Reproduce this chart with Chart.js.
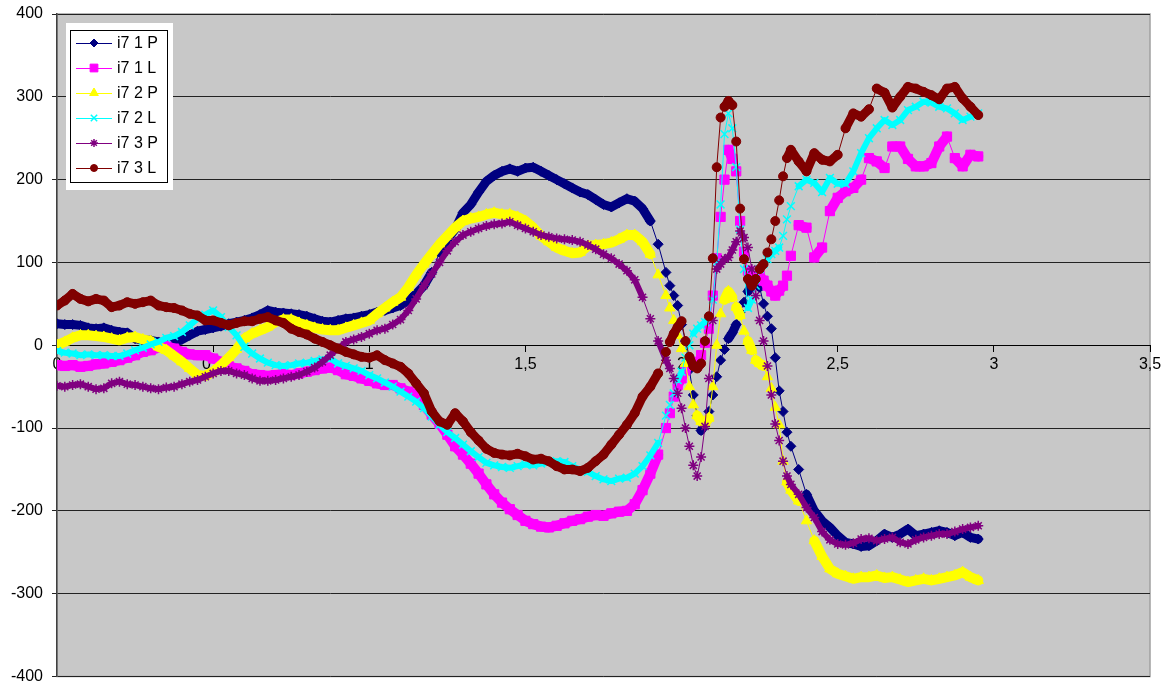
<!DOCTYPE html>
<html>
<head>
<meta charset="utf-8">
<title>i7</title>
<script src="https://cdn.jsdelivr.net/npm/chart.js@4.4.1/dist/chart.umd.min.js"></script>
<style>
    html, body { margin: 0; padding: 0; background: #fff; }
    #wrap { width: 1165px; height: 684px; }
</style>
</head>
<body>
<div id="wrap"><canvas id="i7-chart"></canvas></div>
<script>
// x positions shared by all series (finer around the peaks)
const xs = [
    0, 0.025, 0.05, 0.075, 0.1, 0.125, 0.15, 0.175, 0.2, 0.225,
    0.25, 0.275, 0.3, 0.325, 0.35, 0.375, 0.4, 0.425, 0.45, 0.475,
    0.5, 0.525, 0.55, 0.575, 0.6, 0.625, 0.65, 0.675, 0.7, 0.725,
    0.75, 0.775, 0.8, 0.825, 0.85, 0.875, 0.9, 0.925, 0.95, 0.975,
    1, 1.025, 1.05, 1.075, 1.1, 1.125, 1.15, 1.175, 1.2, 1.225,
    1.25, 1.275, 1.3, 1.325, 1.35, 1.375, 1.4, 1.425, 1.45, 1.475,
    1.5, 1.525, 1.55, 1.575, 1.6, 1.625, 1.65, 1.675, 1.7, 1.725,
    1.75, 1.775, 1.8, 1.825, 1.85, 1.875, 1.9, 1.925,
    1.95, 1.9625, 1.975, 1.9875, 2, 2.0125, 2.025, 2.0375, 2.05, 2.0625,
    2.075, 2.0875, 2.1, 2.1125, 2.125, 2.1375, 2.15, 2.1625, 2.175, 2.1875,
    2.2, 2.2125, 2.225, 2.2375, 2.25, 2.2625, 2.275, 2.2875, 2.3, 2.3125,
    2.325, 2.3375, 2.35,
    2.375, 2.4, 2.425, 2.45, 2.475, 2.5, 2.525, 2.55, 2.575, 2.6,
    2.625, 2.65, 2.675, 2.7, 2.725, 2.75, 2.775, 2.8, 2.825, 2.85,
    2.875, 2.9, 2.925, 2.95
];

const i7_1P = [
    26, 25, 25, 24, 21, 20, 21, 18, 16, 15,
    8, 6, 6, 4, 3, 3, 7, 12, 17, 19,
    21, 23, 26, 28, 30, 33, 37, 42, 40, 39,
    38, 37, 35, 32, 29, 28, 30, 32, 33, 35,
    37, 40, 42, 45, 48, 54, 62, 72, 88, 112,
    128, 140, 160, 170, 185, 198, 205, 210, 213, 210,
    214, 215, 210, 205, 200, 195, 190, 185, 182, 176,
    170, 167, 172, 177, 174, 165, 150, 122,
    88, 72, 60, 48, 25, 5, -30, -60, -85, -103,
    -95, -80, -60, -38, -18, -5, 8, 15, 25, 40,
    52, 65, 72, 76, 70, 50, 35, 20, -15, -55,
    -80, -105, -122,
    -150, -180, -200, -212, -220, -230, -238, -240, -243, -242,
    -236, -228, -232, -228, -222, -230, -228, -226, -224, -226,
    -230, -226, -232, -234
];

const i7_1L = [
    -24, -25, -24, -26, -25, -23, -22, -20, -18, -15,
    -12, -8, -6, -3, -1, -4, -8, -11, -12, -12,
    -16, -20, -25, -28, -31, -35, -36, -37, -36, -35,
    -36, -34, -32, -30, -28, -27, -30, -35, -37, -40,
    -43, -46, -48, -48, -52, -56, -60, -72, -84, -95,
    -108, -122, -132, -143, -155, -168, -180, -190, -198, -205,
    -212, -216, -219, -220, -218, -215, -212, -210, -207, -205,
    -206, -203, -201, -200, -192, -175, -155, -132,
    -100, -82, -62, -48, -40, -30, -22, -20, -24, -12,
    3, 20, 60, 105, 155, 200, 236, 225, 210, 150,
    113, 90, 82, 80, 84, 78, 72, 65, 60, 66,
    72, 84, 108,
    145, 142, 106, 118, 162, 178, 186, 190, 200, 226,
    222, 214, 240, 240, 225, 216, 216, 220, 240, 252,
    226, 216, 230, 228
];

const i7_2P = [
    0, 4, 9, 12, 12, 11, 10, 8, 6, 9,
    10, 7, 5, -2, -6, -13, -20, -28, -36, -37,
    -32, -24, -15, -5, 8, 14, 18, 22, 28, 31,
    31, 27, 24, 21, 19, 18, 18, 21, 24, 27,
    30, 38, 45, 52, 58, 70, 85, 98, 110, 122,
    132, 142, 150, 153, 155, 158, 160, 158, 158, 155,
    150, 142, 132, 125, 118, 114, 111, 112, 120, 121,
    122, 124, 128, 133, 133, 125, 110, 85,
    60, 45, 30, 12, -4, -22, -50, -72, -85, -92,
    -94, -88, -50, 0, 38, 55, 65, 58, 46, 36,
    17, 5, -6, -18, -22, -25, -38, -52, -75, -96,
    -140, -165, -175,
    -188, -212, -236, -255, -270, -276, -279, -282, -280, -280,
    -278, -281, -280, -283, -286, -284, -282, -284, -282, -280,
    -278, -274, -280, -284
];

const i7_2L = [
    -7, -9, -10, -12, -11, -12, -12, -13, -13, -10,
    -6, -3, 1, 4, 9, 11, 16, 24, 32, 37,
    42, 34, 22, 12, -2, -10, -16, -21, -24, -25,
    -24, -22, -21, -19, -17, -16, -22, -25, -28, -31,
    -36, -40, -45, -50, -56, -62, -68, -76, -86, -96,
    -105, -112, -120, -128, -135, -142, -145, -147, -148, -146,
    -144, -145, -143, -141, -140, -141, -146, -150, -153, -158,
    -162, -164, -161, -160, -155, -146, -133, -118,
    -85, -72, -58, -42, -32, -15, 0, 14, 20, 24,
    28, 34, 55, 100, 170, 255, 280, 262, 215, 140,
    92, 45, 55, 72, 92, 98, 104, 110, 114, 118,
    132, 152, 168,
    192, 200, 196, 185, 202, 195, 195, 210, 232, 250,
    262, 272, 266, 272, 284, 288, 294, 293, 288, 286,
    280, 272, 276, 280
];

const i7_3P = [
    -49, -50, -48, -47, -50, -53, -52, -46, -44, -47,
    -48, -50, -52, -53, -51, -50, -47, -44, -42, -38,
    -34, -31, -31, -34, -36, -40, -43, -43, -42, -40,
    -38, -36, -32, -27, -20, -12, -4, 4, 7, 10,
    14, 18, 20, 25, 31, 42, 56, 72, 86, 100,
    114, 125, 133, 137, 141, 144, 146, 147, 149, 145,
    141, 137, 133, 131, 129, 128, 127, 125, 121, 116,
    110, 105, 98, 90, 79, 58, 32, 5,
    -18, -28, -40, -58, -76, -100, -122, -145, -158, -135,
    -98, -40, 30, 92, 98, 104, 106, 115, 125, 138,
    130, 118, 92, 60, 30, 5, -25, -60, -95, -115,
    -140, -158, -168,
    -180, -196, -208, -225, -235, -240, -241, -239, -234, -233,
    -236, -234, -232, -238, -240, -235, -232, -230, -228, -228,
    -225, -222, -220, -218
];

const i7_3L = [
    48, 54, 62, 56, 53, 56, 54, 46, 48, 52,
    50, 52, 54, 48, 46, 45, 42, 38, 36, 30,
    30, 27, 24, 27, 29, 29, 32, 34, 30, 27,
    20, 16, 13, 8, 4, 0, -4, -8, -11, -14,
    -15, -12, -18, -22, -26, -34, -46, -58, -80, -92,
    -96, -82, -92, -105, -115, -125, -130, -132, -133, -131,
    -134, -138, -137, -140, -146, -150, -150, -152, -148, -140,
    -132, -120, -108, -96, -82, -62, -50, -34,
    -8, 4, 14, 22, 29, 5, -14, -25, -28, -22,
    5, 35, 105, 215, 275, 288, 295, 290, 246, 165,
    104, 80, 72, 80, 92, 98, 112, 128, 150, 175,
    204, 226, 236,
    222, 210, 232, 224, 222, 230, 262, 280, 276, 285,
    310, 305, 287, 300, 312, 310, 306, 302, 297, 310,
    312, 298, 288, 278
];

const seriesNames = ['i7 1 P', 'i7 1 L', 'i7 2 P', 'i7 2 L', 'i7 3 P', 'i7 3 L'];
const seriesValues = [i7_1P, i7_1L, i7_2P, i7_2L, i7_3P, i7_3L];
const seriesColors = ['#000080', '#FF00FF', '#FFFF00', '#00FFFF', '#800080', '#800000'];
const pointStyles = ['rectRot', 'rect', 'triangle', 'crossRot', 'star', 'circle'];
const pointSizes = [5, 6.5, 6, 5.5, 5, 4.5];
const pointLines = [1, 1, 1, 1.5, 1.5, 1];
// the original has hundreds of markers per series which merge into a band
const bandWidths = [9, 10, 10, 6, 6, 9];

Chart.defaults.font.family = '"Liberation Sans", Arial, sans-serif';
Chart.defaults.color = '#000';

// grey plot area like the spreadsheet chart
const plotBackground = {
    id: 'plotBackground',
    beforeDraw(chart) {
        const {ctx, chartArea: a} = chart;
        ctx.save();
        ctx.fillStyle = '#fff';
        ctx.fillRect(0, 0, chart.width, chart.height);
        ctx.fillStyle = '#C8C8C8';
        ctx.fillRect(a.left, a.top, a.right - a.left, a.bottom - a.top);
        ctx.strokeStyle = '#A0A0A0';
        ctx.lineWidth = 1.5;
        ctx.strokeRect(a.left, a.top, a.right - a.left, a.bottom - a.top);
        ctx.restore();
    }
};

// legend box drawn inside the plot, top left
const boxLegend = {
    id: 'boxLegend',
    afterDatasetsDraw(chart) {
        const {ctx, chartArea: a} = chart;
        const left = a.left + 9;
        const top = a.top + 9;
        ctx.save();
        ctx.fillStyle = '#fff';
        ctx.fillRect(left, top, 107, 167);
        ctx.strokeStyle = '#000';
        ctx.lineWidth = 1;
        ctx.strokeRect(left + 4.5, top + 7.5, 97, 152);
        ctx.font = '16px "Liberation Sans", Arial, sans-serif';
        ctx.textBaseline = 'middle';
        seriesNames.forEach((name, i) => {
            const y = top + 20 + i * 25;
            ctx.strokeStyle = seriesColors[i];
            ctx.fillStyle = seriesColors[i];
            ctx.lineWidth = 1;
            ctx.beginPath();
            ctx.moveTo(left + 10, y + 0.5);
            ctx.lineTo(left + 46, y + 0.5);
            ctx.stroke();
            ctx.lineWidth = pointLines[i];
            Chart.helpers.drawPoint(ctx, {
                pointStyle: pointStyles[i],
                radius: pointSizes[i] - 1,
                rotation: 0,
                borderWidth: pointLines[i]
            }, left + 28, y);
            ctx.fillStyle = '#000';
            ctx.fillText(name, left + 51, y + 1);
        });
        ctx.restore();
    }
};

// thin line where consecutive markers separate, thick band where they pile up
function segmentWidth(i) {
    return function (c) {
        const dx = Math.abs(c.p1.x - c.p0.x);
        const dy = Math.abs(c.p1.y - c.p0.y);
        return dy > 2.5 * dx ? 1 : bandWidths[i];
    };
}

document.addEventListener('DOMContentLoaded', function () {
    const ctx = document.getElementById('i7-chart');

    const datasets = seriesNames.map((name, i) => ({
        label: name,
        data: xs.map((x, k) => ({x: x, y: seriesValues[i][k]})),
        showLine: true,
        borderColor: seriesColors[i],
        backgroundColor: seriesColors[i],
        borderWidth: 1,
        borderCapStyle: 'round',
        borderJoinStyle: 'round',
        segment: {borderWidth: segmentWidth(i)},
        pointStyle: pointStyles[i],
        pointRadius: pointSizes[i],
        pointBorderWidth: pointLines[i],
        pointHoverRadius: pointSizes[i],
        order: seriesNames.length - i
    }));

    new Chart(ctx, {
        type: 'scatter',
        data: {datasets: datasets},
        plugins: [plotBackground, boxLegend],
        options: {
            responsive: true,
            maintainAspectRatio: false,
            animation: false,
            layout: {
                padding: {top: 14, right: 15, bottom: 4, left: 0}
            },
            plugins: {
                legend: {display: false},
                tooltip: {enabled: false}
            },
            scales: {
                x: {
                    type: 'linear',
                    position: {y: 0},
                    min: 0,
                    max: 3.5,
                    ticks: {
                        stepSize: 0.5,
                        maxRotation: 0,
                        autoSkip: false,
                        padding: 4,
                        font: {size: 16},
                        callback: v => String(v).replace('.', ',')
                    },
                    grid: {
                        drawOnChartArea: false,
                        tickLength: 6,
                        color: '#000'
                    },
                    border: {display: true, color: '#000', width: 1},
                    afterFit(scale) {
                        scale.paddingLeft = 0;
                        scale.paddingRight = 0;
                    }
                },
                y: {
                    min: -400,
                    max: 400,
                    ticks: {
                        stepSize: 100,
                        padding: 9,
                        font: {size: 16}
                    },
                    grid: {
                        color: '#222',
                        tickLength: 5
                    },
                    border: {color: '#404040', width: 1.5},
                    afterFit(scale) {
                        scale.width = 57;
                        scale.paddingTop = 0;
                        scale.paddingBottom = 0;
                    }
                }
            }
        }
    });
});
</script>
</body>
</html>
